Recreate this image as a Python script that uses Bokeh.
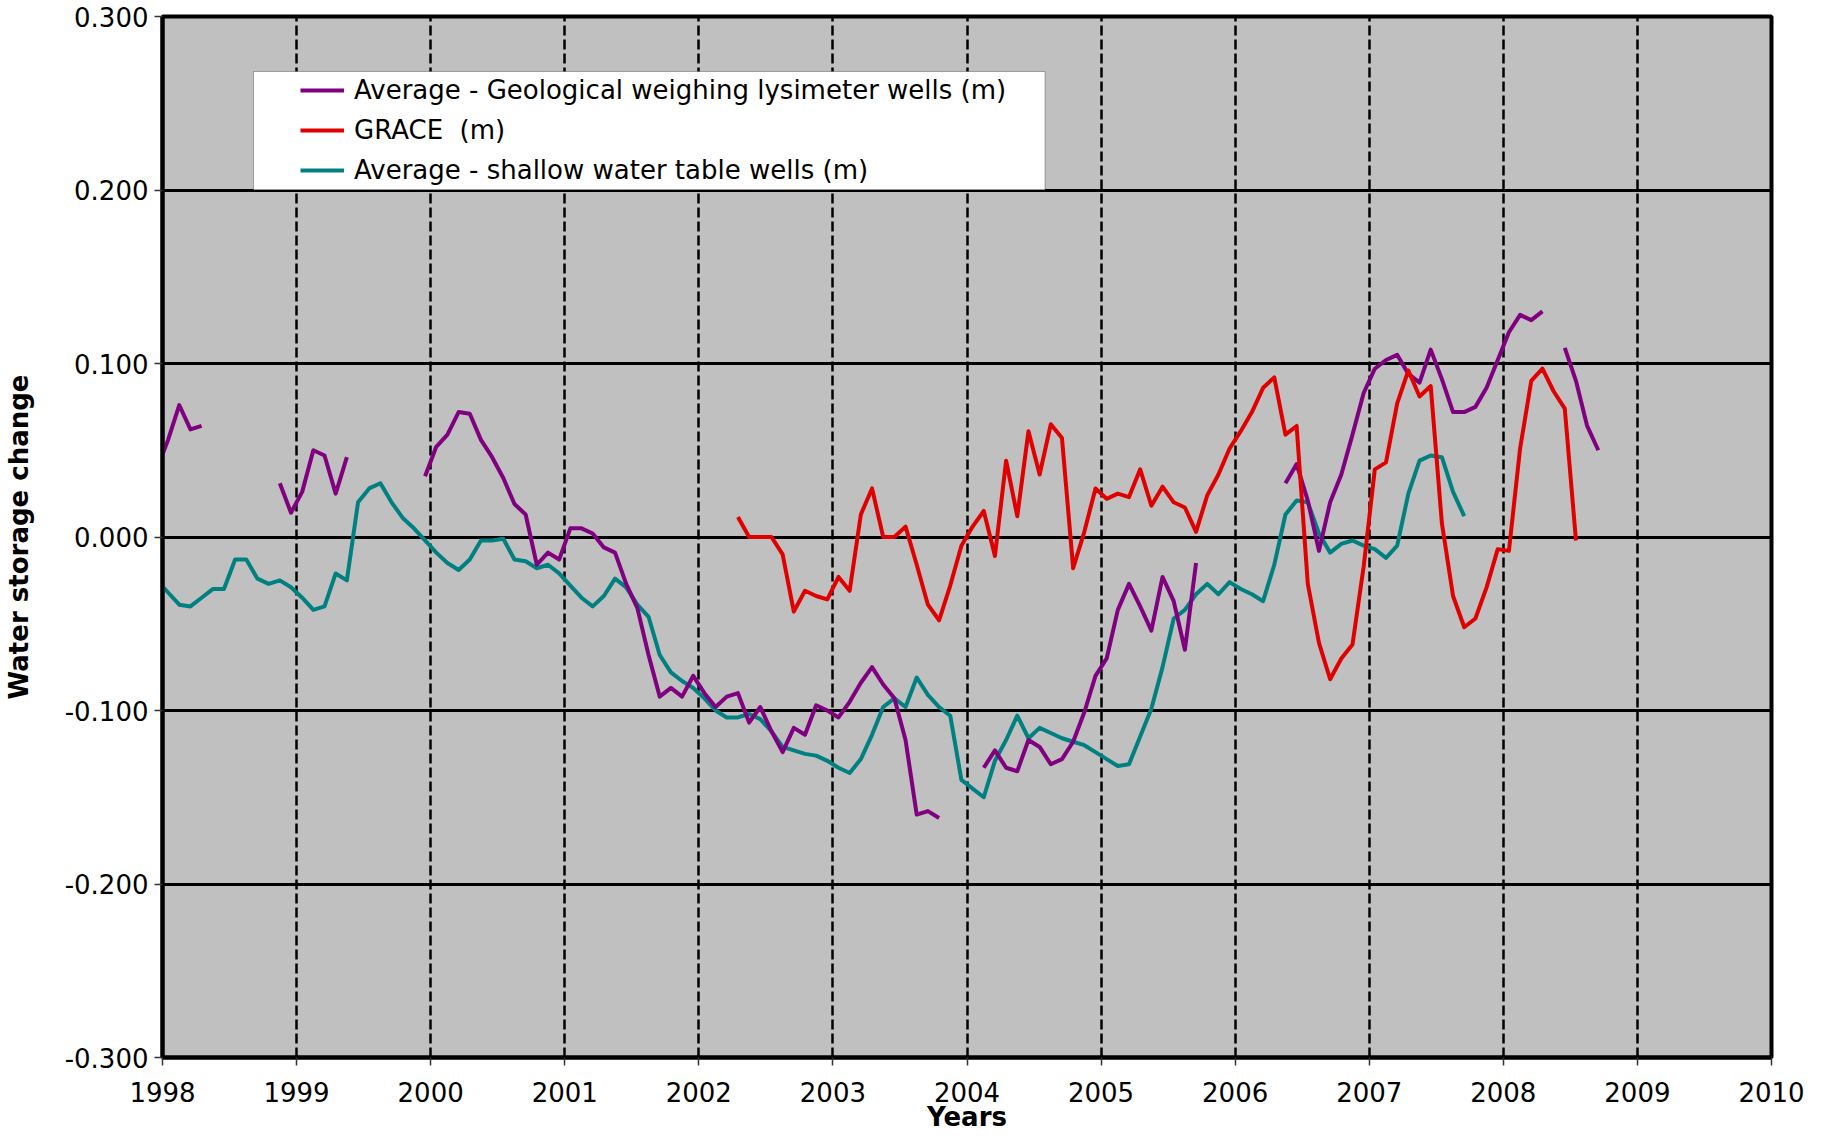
import numpy as np
from bokeh.plotting import figure
from bokeh.models import (Range1d, FixedTicker, PrintfTickFormatter, Legend,
                          LegendItem, BoxAnnotation)
from bokeh.embed import file_html
from bokeh.resources import INLINE

nan = float("nan")

# ---------------- data (monthly values, Jan..Dec, metres) ----------------
YEARS = [1997, 1998, 1999, 2000, 2001, 2002, 2003, 2004, 2005, 2006, 2007, 2008]

LYSIMETER = [
    [nan, nan, nan, nan, nan, nan, nan, nan, nan, nan, nan, 0.039],
    [0.056, 0.076, 0.062, 0.064, nan, nan, nan, nan, nan, nan, 0.031, 0.014],
    [0.026, 0.050, 0.047, 0.025, 0.046, nan, nan, nan, nan, nan, nan, 0.035],
    [0.052, 0.059, 0.072, 0.071, 0.056, 0.046, 0.034, 0.019, 0.013, -0.016, -0.009, -0.013],
    [0.005, 0.005, 0.002, -0.006, -0.009, -0.027, -0.041, -0.068, -0.092, -0.087, -0.092, -0.080],
    [-0.090, -0.098, -0.092, -0.090, -0.107, -0.098, -0.112, -0.124, -0.110, -0.114, -0.097, -0.100],
    [-0.104, -0.095, -0.084, -0.075, -0.085, -0.093, -0.117, -0.160, -0.158, -0.162, nan, nan],
    [nan, -0.133, -0.123, -0.133, -0.135, -0.117, -0.121, -0.131, -0.128, -0.118, -0.101, -0.080],
    [-0.070, -0.042, -0.027, -0.040, -0.054, -0.023, -0.037, -0.065, -0.015, nan, nan, nan],
    [nan, nan, nan, nan, 0.031, 0.042, 0.021, -0.008, 0.020, 0.036, 0.059, 0.083],
    [0.097, 0.102, 0.105, 0.094, 0.089, 0.108, 0.091, 0.072, 0.072, 0.075, 0.086, 0.102],
    [0.118, 0.128, 0.125, 0.130, nan, 0.109, 0.090, 0.064, 0.050, nan, nan, nan],
]

GRACE = [
    [nan] * 12,
    [nan] * 12,
    [nan] * 12,
    [nan] * 12,
    [nan] * 12,
    [nan, nan, nan, 0.0115, 0.000, 0.000, 0.000, -0.010, -0.043, -0.031, -0.034, -0.036],
    [-0.023, -0.031, 0.013, 0.028, 0.000, 0.000, 0.006, -0.016, -0.039, -0.048, -0.028, -0.005],
    [0.006, 0.015, -0.011, 0.044, 0.012, 0.061, 0.036, 0.065, 0.057, -0.018, 0.003, 0.028],
    [0.022, 0.025, 0.023, 0.039, 0.018, 0.029, 0.020, 0.017, 0.003, 0.024, 0.036, 0.051],
    [0.061, 0.072, 0.086, 0.092, 0.059, 0.064, -0.027, -0.061, -0.082, -0.070, -0.062, -0.017],
    [0.039, 0.043, 0.077, 0.096, 0.081, 0.087, 0.008, -0.034, -0.052, -0.047, -0.029, -0.007],
    [-0.008, 0.051, 0.090, 0.097, 0.084, 0.074, -0.002, nan, nan, nan, nan, nan],
]

SHALLOW = [
    [nan, nan, nan, nan, nan, nan, nan, nan, nan, nan, nan, -0.025],
    [-0.032, -0.039, -0.040, -0.035, -0.030, -0.030, -0.013, -0.013, -0.024, -0.027, -0.025, -0.029],
    [-0.035, -0.042, -0.040, -0.021, -0.025, 0.020, 0.028, 0.031, 0.020, 0.011, 0.005, -0.002],
    [-0.009, -0.015, -0.019, -0.013, -0.002, -0.002, -0.001, -0.013, -0.014, -0.018, -0.016, -0.021],
    [-0.028, -0.035, -0.040, -0.034, -0.024, -0.029, -0.039, -0.046, -0.068, -0.078, -0.083, -0.087],
    [-0.093, -0.100, -0.104, -0.104, -0.102, -0.105, -0.112, -0.121, -0.123, -0.125, -0.126, -0.129],
    [-0.133, -0.136, -0.128, -0.114, -0.098, -0.093, -0.098, -0.081, -0.091, -0.098, -0.103, -0.140],
    [-0.145, -0.150, -0.129, -0.117, -0.103, -0.116, -0.110, -0.113, -0.116, -0.118, -0.120, -0.124],
    [-0.128, -0.132, -0.131, -0.115, -0.099, -0.075, -0.047, -0.042, -0.033, -0.027, -0.033, -0.026],
    [-0.030, -0.033, -0.037, -0.016, 0.013, 0.021, 0.020, 0.002, -0.009, -0.004, -0.002, -0.005],
    [-0.007, -0.012, -0.005, 0.025, 0.044, 0.047, 0.046, 0.026, 0.012, nan, nan, nan],
    [nan] * 12,
]

LABELS = [
    "Average - Geological weighing lysimeter wells (m)",
    "GRACE  (m)",
    "Average - shallow water table wells (m)",
]
X_TICKS = list(range(1998, 2011))
Y_TICKS = [-0.3, -0.2, -0.1, 0.0, 0.1, 0.2, 0.3]

# ---------------- build ----------------
x = np.array([yr + (m + 0.5) / 12.0 for yr in YEARS for m in range(12)])


def flat(rows):
    return np.array([v for row in rows for v in row], dtype=float)


FONT = "DejaVu Sans"

p = figure(width=1824, height=1138, output_backend="svg", toolbar_location=None,
           x_range=Range1d(1998, 2010), y_range=Range1d(-0.3, 0.3),
           min_border_left=162, min_border_right=53, min_border_top=16,
           min_border_bottom=81, background_fill_color="#C0C0C0",
           border_fill_color="white")

# grid
p.xgrid.ticker = FixedTicker(ticks=X_TICKS)
p.ygrid.ticker = FixedTicker(ticks=Y_TICKS)
p.xgrid.grid_line_color = "black"
p.xgrid.grid_line_width = 2.5
p.xgrid.grid_line_dash = "10 4"
p.ygrid.grid_line_color = "black"
p.ygrid.grid_line_width = 3

# axes
p.xaxis.ticker = FixedTicker(ticks=X_TICKS)
p.yaxis.ticker = FixedTicker(ticks=Y_TICKS)
p.xaxis.formatter = PrintfTickFormatter(format="%d")
p.yaxis.formatter = PrintfTickFormatter(format="%.3f")
for ax in (p.xaxis, p.yaxis):
    ax.axis_line_color = "black"
    ax.axis_line_width = 4
    ax.major_tick_out = 8
    ax.major_tick_in = 0
    ax.major_tick_line_color = "#333333"
    ax.major_tick_line_width = 1.5
    ax.minor_tick_line_color = None
    ax.major_label_text_font = FONT
    ax.major_label_text_font_size = "26px"
    ax.major_label_text_color = "black"
    ax.axis_label_text_font = FONT
    ax.axis_label_text_font_size = "26px"
    ax.axis_label_text_font_style = "bold"
    ax.axis_label_text_color = "black"
p.xaxis.axis_label = "Years"
p.yaxis.axis_label = "Water storage change"
p.yaxis.major_label_standoff = 6
p.yaxis.axis_label_standoff = 28
p.xaxis.major_label_standoff = 16
p.xaxis.axis_label_standoff = -3

p.outline_line_color = "black"
p.outline_line_width = 4
p.outline_line_alpha = 1

# series
r_teal = p.line(x, flat(SHALLOW), line_color="#008080", line_width=4, line_join="round")
r_purple = p.line(x, flat(LYSIMETER), line_color="#800080", line_width=4, line_join="round")
r_red = p.line(x, flat(GRACE), line_color="#E00000", line_width=4, line_join="round")

# legend box (white panel) and legend
box = BoxAnnotation(left=1998.679, right=2004.582, bottom=0.2001, top=0.2683,
                    fill_color="white", fill_alpha=1.0, line_color="black",
                    line_width=1)
p.add_layout(box)

legend = Legend(items=[LegendItem(label=LABELS[0], renderers=[r_purple]),
                       LegendItem(label=LABELS[1], renderers=[r_red]),
                       LegendItem(label=LABELS[2], renderers=[r_teal])],
                location=(138, 872), padding=0, spacing=10, glyph_width=44,
                glyph_height=30, label_height=30, label_standoff=10,
                background_fill_alpha=0, border_line_alpha=0,
                label_text_font=FONT, label_text_font_size="26px",
                label_text_color="black")
p.add_layout(legend)

open("out.html", "w").write(file_html(p, INLINE))
